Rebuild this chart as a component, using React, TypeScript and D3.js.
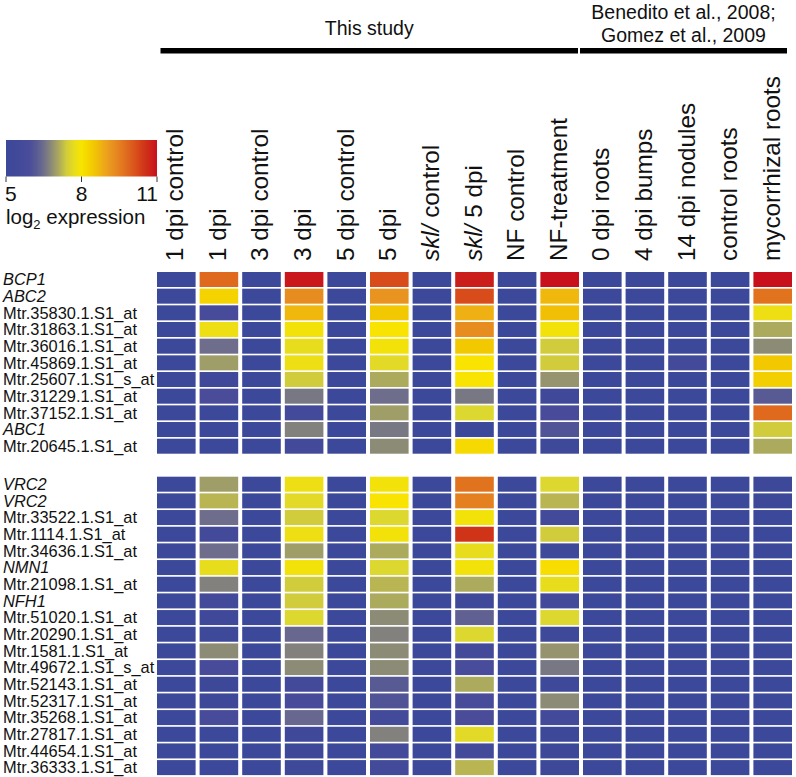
import React from 'react';
import * as d3 from 'd3';

const columns = [
  '1 dpi control', '1 dpi', '3 dpi control', '3 dpi', '5 dpi control', '5 dpi',
  'skl control', 'skl 5 dpi', 'NF control', 'NF-treatment',
  '0 dpi roots', '4 dpi bumps', '14 dpi nodules', 'control roots', 'mycorrhizal roots',
];

const topGenes = [
  'BCP1', 'ABC2', 'Mtr.35830.1.S1_at', 'Mtr.31863.1.S1_at', 'Mtr.36016.1.S1_at',
  'Mtr.45869.1.S1_at', 'Mtr.25607.1.S1_s_at', 'Mtr.31229.1.S1_at', 'Mtr.37152.1.S1_at',
  'ABC1', 'Mtr.20645.1.S1_at',
];

const bottomGenes = [
  'VRC2', 'VRC2', 'Mtr.33522.1.S1_at', 'Mtr.1114.1.S1_at', 'Mtr.34636.1.S1_at', 'NMN1',
  'Mtr.21098.1.S1_at', 'NFH1', 'Mtr.51020.1.S1_at', 'Mtr.20290.1.S1_at', 'Mtr.1581.1.S1_at',
  'Mtr.49672.1.S1_s_at', 'Mtr.52143.1.S1_at', 'Mtr.52317.1.S1_at', 'Mtr.35268.1.S1_at',
  'Mtr.27817.1.S1_at', 'Mtr.44654.1.S1_at', 'Mtr.36333.1.S1_at',
];

const topValues = [
  [5, 9.8, 5, 10.9, 5, 10.2, 5, 10.8, 5, 11, 5, 5, 5, 5, 11],
  [5, 8.3, 5, 9.3, 5, 9.2, 5, 10.2, 5, 8.7, 5, 5, 5, 5, 9.7],
  [5, 5.8, 5, 8.7, 5, 8.5, 5, 8.8, 5, 8.6, 5, 5, 5, 5, 7.8],
  [5, 7.8, 5, 7.9, 5, 8.0, 5, 9.3, 5, 7.9, 5, 5, 5, 5, 7.1],
  [5, 6.5, 5, 7.7, 5, 7.9, 5, 8.5, 5, 7.4, 5, 5, 5, 5, 6.8],
  [5, 7.0, 5, 7.8, 5, 7.6, 5, 8.0, 5, 7.4, 5, 5, 5.4, 5, 8.5],
  [5, 5.3, 5, 7.4, 5, 7.1, 5, 8.0, 5, 6.9, 5, 5, 5, 5, 8.4],
  [5, 6.0, 5, 6.6, 5, 6.5, 5, 6.6, 5, 5.3, 5, 5, 5, 5, 6.2],
  [5, 5.0, 5, 5.6, 5, 7.0, 5, 7.5, 5, 5.8, 5, 5, 5, 5, 9.8],
  [5, 5.0, 5, 6.7, 5, 6.6, 5, 5.0, 5, 6.1, 5, 5, 5, 5, 7.4],
  [5, 5.0, 5, 5.6, 5, 6.8, 5, 8.2, 5, 5.2, 5, 5, 5, 5, 7.1],
];

const bottomValues = [
  [5, 7.0, 5, 7.8, 5, 7.9, 5, 9.7, 5, 7.5, 5, 5, 5, 5, 5.1],
  [5, 7.2, 5, 7.6, 5, 8.0, 5, 9.5, 5, 7.2, 5, 5, 5, 5, 5.1],
  [5, 6.5, 5, 7.4, 5, 7.5, 5, 7.9, 5, 5.6, 5, 5, 5, 5, 5.0],
  [5, 5.5, 5, 7.8, 5, 7.9, 5, 10.5, 5, 7.4, 5, 5, 5, 5, 5.0],
  [5, 6.5, 5, 7.0, 5, 7.1, 5, 7.7, 5, 5.2, 5, 5, 5, 5, 5.0],
  [5, 7.7, 5, 7.9, 5, 7.5, 5, 7.9, 5, 8.1, 5, 5, 5, 5, 5.0],
  [5, 6.7, 5, 7.4, 5, 7.2, 5, 7.1, 5, 7.7, 5, 5, 5, 5, 5.0],
  [5, 5.5, 5, 7.4, 5, 7.1, 5, 5.3, 5, 5.6, 5, 5, 5, 5, 5.0],
  [5, 5.3, 5, 7.5, 5, 6.8, 5, 6.3, 5, 7.5, 5, 5, 5, 5, 5.0],
  [5, 5.2, 5, 6.4, 5, 6.7, 5, 7.5, 5, 5.2, 5, 5, 5, 5, 5.0],
  [5, 6.8, 5, 6.7, 5, 6.8, 5, 5.5, 5, 6.9, 5, 5, 5, 5, 5.0],
  [5, 5.8, 5, 6.8, 5, 6.8, 5, 5.9, 5, 6.6, 5, 5, 5, 5, 5.0],
  [5, 5.1, 5, 5.6, 5, 6.2, 5, 7.1, 5, 5.2, 5, 5, 5, 5, 5.0],
  [5, 5.1, 5, 5.8, 5, 6.1, 5, 5.8, 5, 6.8, 5, 5, 5, 5, 5.0],
  [5, 5.8, 5, 6.4, 5, 5.6, 5, 6.0, 5, 5.6, 5, 5, 5, 5, 5.0],
  [5, 5.0, 5, 5.3, 5, 6.7, 5, 7.6, 5, 5.1, 5, 5, 5, 5, 5.0],
  [5, 5.0, 5, 5.1, 5, 5.6, 5, 5.6, 5, 5.1, 5, 5, 5, 5, 5.0],
  [5, 5.0, 5, 5.2, 5, 5.6, 5, 7.2, 5, 5.1, 5, 5, 5, 5, 5.0],
];

const colorStops = [5, 6, 6.5, 7, 7.5, 8, 8.5, 9, 9.5, 10, 10.5, 11];
const colorRange = ['#3c4899', '#4a4c9a', '#6e6e8c', '#a09e68', '#dcd830', '#f8e400', '#f2c800', '#eca020', '#e48020', '#dc5c1c', '#d03418', '#c8101c'];
const legendTicks = [5, 8, 11];

const groups = [
  { label: ['This study'], from: 0, to: 9 },
  { label: ['Benedito et al., 2008;', 'Gomez et al., 2009'], from: 10, to: 14 },
];

const FONT = '"Liberation Sans", Arial, Helvetica, sans-serif';

export default function App() {
  const W = 796, H = 777;
  const color = d3.scaleLinear<string>().domain(colorStops).range(colorRange).interpolate(d3.interpolateRgb).clamp(true);

  const x = d3.scaleBand<number>().domain(d3.range(columns.length)).range([157, 792]).paddingInner(0.094).paddingOuter(0);
  const yTop = d3.scaleBand<number>().domain(d3.range(topGenes.length)).range([272, 453.7]).paddingInner(0.1);
  const yBot = d3.scaleBand<number>().domain(d3.range(bottomGenes.length)).range([476.7, 775.1]).paddingInner(0.1);

  const legendX = d3.scaleLinear().domain([5, 11]).range([6, 157]);

  const isItalic = (g: string) => !g.startsWith('Mtr.');

  const block = (genes: string[], values: number[][], y: d3.ScaleBand<number>, key: string) => (
    <g key={key}>
      {genes.map((g, i) => (
        <text key={'l' + i} x={3} y={(y(i) as number) + y.bandwidth() / 2 + 5.8}
          fontSize={16.4} fontStyle={isItalic(g) ? 'italic' : 'normal'} fill="#111">{g}</text>
      ))}
      {values.map((row, i) => row.map((v, j) => (
        <rect key={i + '-' + j} x={x(j)} y={y(i)} width={x.bandwidth()} height={y.bandwidth()} fill={color(v)} />
      )))}
    </g>
  );

  const colLabel = (c: string) => {
    if (c.startsWith('skl ')) {
      return (<><tspan fontStyle="italic">skl/</tspan><tspan>{c.slice(3)}</tspan></>);
    }
    return c;
  };

  const gradStops = d3.range(0, 1.0001, 0.05).map(t => 5 + t * 6);

  return (
    <svg width={W} height={H} style={{ position: 'absolute', left: 0, top: 0, fontFamily: FONT }}>
      <rect x={0} y={0} width={W} height={H} fill="#fff" />
      <defs>
        <linearGradient id="lg" x1="0" x2="1" y1="0" y2="0">
          {gradStops.map((v, i) => (
            <stop key={i} offset={(v - 5) / 6} stopColor={color(v)} />
          ))}
        </linearGradient>
      </defs>

      {groups.map((gr, i) => {
        const x0 = (x(gr.from) as number) + (i === 0 ? 3.5 : -3);
        const x1 = (x(gr.to) as number) + x.bandwidth() - (i === 0 ? 1 : 5);
        const cx = (x0 + x1) / 2;
        return (
          <g key={'g' + i}>
            <rect x={x0} y={48} width={x1 - x0} height={5.5} fill="#000" />
            {gr.label.map((t, k) => (
              <text key={k} x={cx} y={gr.label.length === 1 ? 35 : 19 + k * 23} textAnchor="middle" fontSize={19.5} fill="#111">{t}</text>
            ))}
          </g>
        );
      })}

      {columns.map((c, j) => {
        const cx = (x(j) as number) + x.bandwidth() / 2 + 7;
        return (
          <text key={'c' + j} transform={`translate(${cx},261) rotate(-90)`} fontSize={24.3} fill="#111">{colLabel(c)}</text>
        );
      })}

      <rect x={legendX(5)} y={140} width={legendX(11) - legendX(5)} height={36.5} fill="url(#lg)" />
      {legendTicks.map((t, i) => (
        <g key={'t' + i}>
          <line x1={legendX(t)} x2={legendX(t)} y1={176.5} y2={182} stroke="#333" strokeWidth={1} />
          <text x={legendX(t) + (i === 0 ? -1 : i === legendTicks.length - 1 ? 1 : 0)} y={201}
            textAnchor={i === 0 ? 'start' : i === legendTicks.length - 1 ? 'end' : 'middle'} fontSize={21} fill="#111">{t}</text>
        </g>
      ))}
      <text x={6} y={224} fontSize={20.5} fill="#111">log<tspan fontSize={13} dy={5}>2</tspan><tspan dy={-5}> expression</tspan></text>

      {block(topGenes, topValues, yTop, 'top')}
      {block(bottomGenes, bottomValues, yBot, 'bot')}
    </svg>
  );
}
